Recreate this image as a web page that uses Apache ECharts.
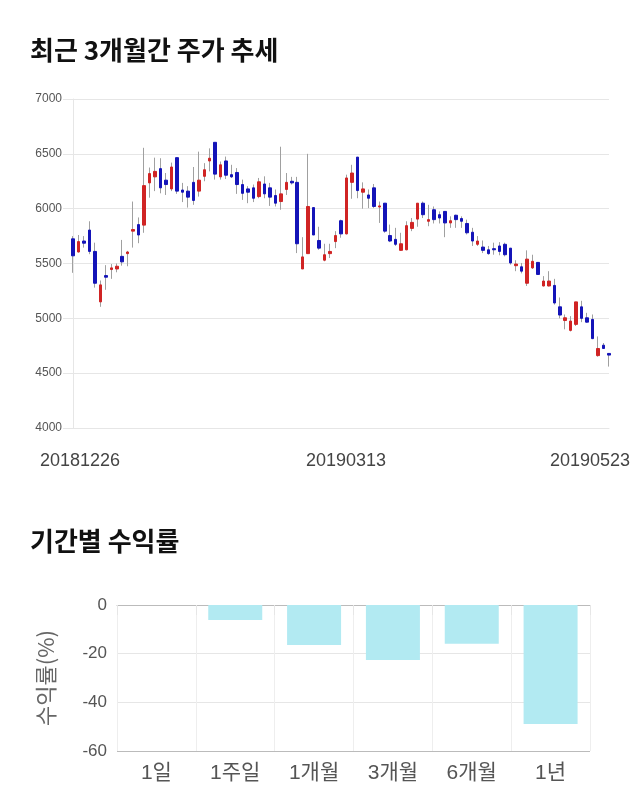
<!DOCTYPE html>
<html><head><meta charset="utf-8">
<script src="https://cdn.jsdelivr.net/npm/echarts@6/dist/echarts.min.js"></script>
<style>html,body{margin:0;padding:0;background:#fff}#c{width:640px;height:810px}</style>
</head><body><div id="c"></div>
<script>
const dates = ['20181226','20181227','20181228',
'20190102','20190103','20190104','20190107','20190108','20190109','20190110','20190111','20190114','20190115','20190116','20190117','20190118','20190121','20190122','20190123','20190124','20190125','20190128','20190129','20190130','20190131',
'20190201','20190207','20190208','20190211','20190212','20190213','20190214','20190215','20190218','20190219','20190220','20190221','20190222','20190225','20190226','20190227','20190228',
'20190304','20190305','20190306','20190307','20190308','20190311','20190312','20190313','20190314','20190315','20190318','20190319','20190320','20190321','20190322','20190325','20190326','20190327','20190328','20190329',
'20190401','20190402','20190403','20190404','20190405','20190408','20190409','20190410','20190411','20190412','20190415','20190416','20190417','20190418','20190419','20190422','20190423','20190424','20190425','20190426','20190429','20190430',
'20190502','20190503','20190507','20190508','20190509','20190510','20190513','20190514','20190515','20190516','20190517','20190520','20190521','20190522','20190523'];
const opens = [5725,5605,5705,5805,5610,5150,5390,5445,5450,5565,5590,5795,5855,5850,6235,6290,6365,6260,6180,6465,6170,6160,6240,6160,6295,6435,6605,6290,6435,6310,6330,6220,6180,6190,6110,6225,6190,6120,6065,6175,6250,6240,5450,5590,6010,5710,5530,5590,5700,5890,5770,6240,6470,6150,6125,6190,6015,6050,5755,5720,5620,5625,5820,5905,6050,5885,5990,5945,5975,5870,5940,5910,5865,5785,5675,5650,5625,5635,5660,5675,5640,5480,5470,5320,5460,5510,5295,5295,5300,5105,4980,4890,4945,5105,5005,4990,4660,4755,4680];
const closes = [5570,5700,5685,5610,5320,5305,5375,5460,5475,5515,5605,5810,5760,6210,6320,6340,6190,6220,6380,6160,6150,6105,6075,6260,6355,6460,6315,6400,6305,6290,6220,6140,6150,6095,6245,6135,6105,6050,6135,6240,6235,5680,5560,6020,5760,5640,5580,5610,5755,5770,6280,6325,6165,6180,6095,6020,6025,5795,5705,5675,5680,5845,5875,6050,5945,5900,5900,5915,5870,5890,5900,5885,5780,5705,5705,5620,5590,5625,5610,5580,5505,5495,5430,5540,5520,5400,5340,5340,5140,5030,5005,4975,5150,5000,4965,4815,4725,4725,4665];
const lows = [5415,5600,5645,5585,5280,5105,5260,5360,5420,5480,5475,5645,5685,5780,6100,6160,6140,6125,6160,6135,6060,6010,6035,6110,6250,6340,6265,6265,6270,6280,6135,6080,6050,6060,6095,6095,6025,6020,5990,6125,6220,5595,5450,5590,5760,5625,5520,5550,5640,5735,5765,6090,6095,6000,6005,6005,5870,5780,5695,5660,5615,5620,5795,5835,5915,5840,5865,5865,5740,5825,5825,5825,5765,5660,5660,5595,5580,5580,5575,5565,5490,5430,5410,5295,5450,5400,5290,5290,5125,5000,4900,4880,4930,4965,4960,4810,4650,4725,4560];
const highs = [5750,5760,5750,5885,5690,5345,5485,5495,5500,5715,5615,6065,5920,6555,6375,6465,6460,6325,6420,6465,6235,6205,6380,6520,6415,6550,6605,6430,6475,6400,6370,6265,6205,6220,6280,6295,6235,6175,6565,6325,6290,6290,5740,6500,6010,5835,5680,5680,5795,5900,6310,6400,6470,6240,6175,6225,6065,6050,5855,5825,5780,5885,5915,6050,6065,6035,6020,5975,5975,5930,5945,5930,5900,5825,5750,5710,5660,5690,5695,5690,5640,5530,5505,5620,5580,5510,5385,5430,5360,5190,5035,5020,5150,5160,5050,5035,4835,4775,4680];
const priceMin = 4000, priceMax = 7000, priceStep = 500;
const periods = ['1일','1주일','1개월','3개월','6개월','1년'];
const returns = [0, -6.2, -16.4, -22.6, -15.9, -48.9];
const retMin = -60, retMax = 0, retStep = 20;

const UP = '#d02424', DOWN = '#1414b8', WICK = '#a0a0a0';
const labelPad = {0:[0,0,0,14], 49:[0,0,0,10], 98:[0,38,0,0]};

const chart = echarts.init(document.getElementById('c'), null, {renderer:'canvas'});
chart.setOption({
  animation:false,
  backgroundColor:'#fff',
  textStyle:{fontFamily:'Arial, "Liberation Sans", "Noto Sans CJK KR", sans-serif'},
  title:[
    {text:'최근 3개월간 주가 추세', left:30, top:37, padding:0,
     textStyle:{fontSize:26, fontWeight:'bold', color:'#111', fontFamily:'"Noto Sans CJK KR", sans-serif'}},
    {text:'기간별 수익률', left:30, top:528, padding:0,
     textStyle:{fontSize:26, fontWeight:'bold', color:'#111', fontFamily:'"Noto Sans CJK KR", sans-serif'}}
  ],
  grid:[
    {left:73, top:99, width:536, height:329},
    {left:117, top:605, width:473, height:146}
  ],
  xAxis:[
    {type:'category', gridIndex:0, data:dates, boundaryGap:false,
     axisLine:{show:true, lineStyle:{color:'#e6e6e6'}},
     axisTick:{show:false},
     splitLine:{show:false},
     axisLabel:{interval:48, margin:24, fontSize:18, color:'#444',
       formatter:function(v, i){ return '{p' + i + '|' + v + '}'; },
       rich:{
         p0:{padding:labelPad[0], fontSize:18, color:'#444'},
         p49:{padding:labelPad[49], fontSize:18, color:'#444'},
         p98:{padding:labelPad[98], fontSize:18, color:'#444'}
       }}},
    {type:'category', gridIndex:1, data:periods,
     axisLine:{show:true, lineStyle:{color:'#bbbbbb'}},
     axisTick:{show:true, length:10, lineStyle:{color:'#e6e6e6'}},
     splitLine:{show:true, lineStyle:{color:'#eeeeee'}},
     axisLabel:{margin:12, fontSize:21, color:'#555', fontFamily:'Arial, "Noto Sans CJK KR", sans-serif'}}
  ],
  yAxis:[
    {type:'value', gridIndex:0, min:priceMin, max:priceMax, interval:priceStep,
     axisLine:{show:true, lineStyle:{color:'#e6e6e6'}},
     axisTick:{show:true, length:10, lineStyle:{color:'#e6e6e6'}},
     splitLine:{show:true, lineStyle:{color:'#e6e6e6'}},
     axisLabel:{margin:11, fontSize:12, color:'#555', formatter:function(v){ return String(v); }}},
    {type:'value', gridIndex:1, min:retMin, max:retMax, interval:retStep,
     name:'수익률(%)', nameLocation:'middle', nameGap:60,
     nameTextStyle:{fontSize:22, color:'#666', fontFamily:'"Noto Sans CJK KR", sans-serif'},
     axisLine:{show:false},
     axisTick:{show:false},
     splitLine:{show:true, lineStyle:{color:['#bbbbbb','#e6e6e6','#e6e6e6','#aaaaaa']}},
     axisLabel:{margin:10, fontSize:17, color:'#555'}}
  ],
  series:[
    {type:'candlestick', xAxisIndex:0, yAxisIndex:0, barWidth:1,
     data:dates.map((d,i)=>[opens[i], opens[i], lows[i], highs[i]]),
     itemStyle:{color:WICK, color0:WICK, borderColor:WICK, borderColor0:WICK, borderColorDoji:WICK, borderWidth:1}},
    {type:'candlestick', xAxisIndex:0, yAxisIndex:0, barWidth:3,
     data:dates.map((d,i)=>[opens[i], closes[i], Math.min(opens[i],closes[i]), Math.max(opens[i],closes[i])]),
     itemStyle:{color:UP, color0:DOWN, borderColor:UP, borderColor0:DOWN, borderWidth:1}},
    {type:'bar', xAxisIndex:1, yAxisIndex:1, data:returns, barWidth:54,
     itemStyle:{color:'#b2eaf2', borderWidth:0}}
  ]
});
</script></body></html>
